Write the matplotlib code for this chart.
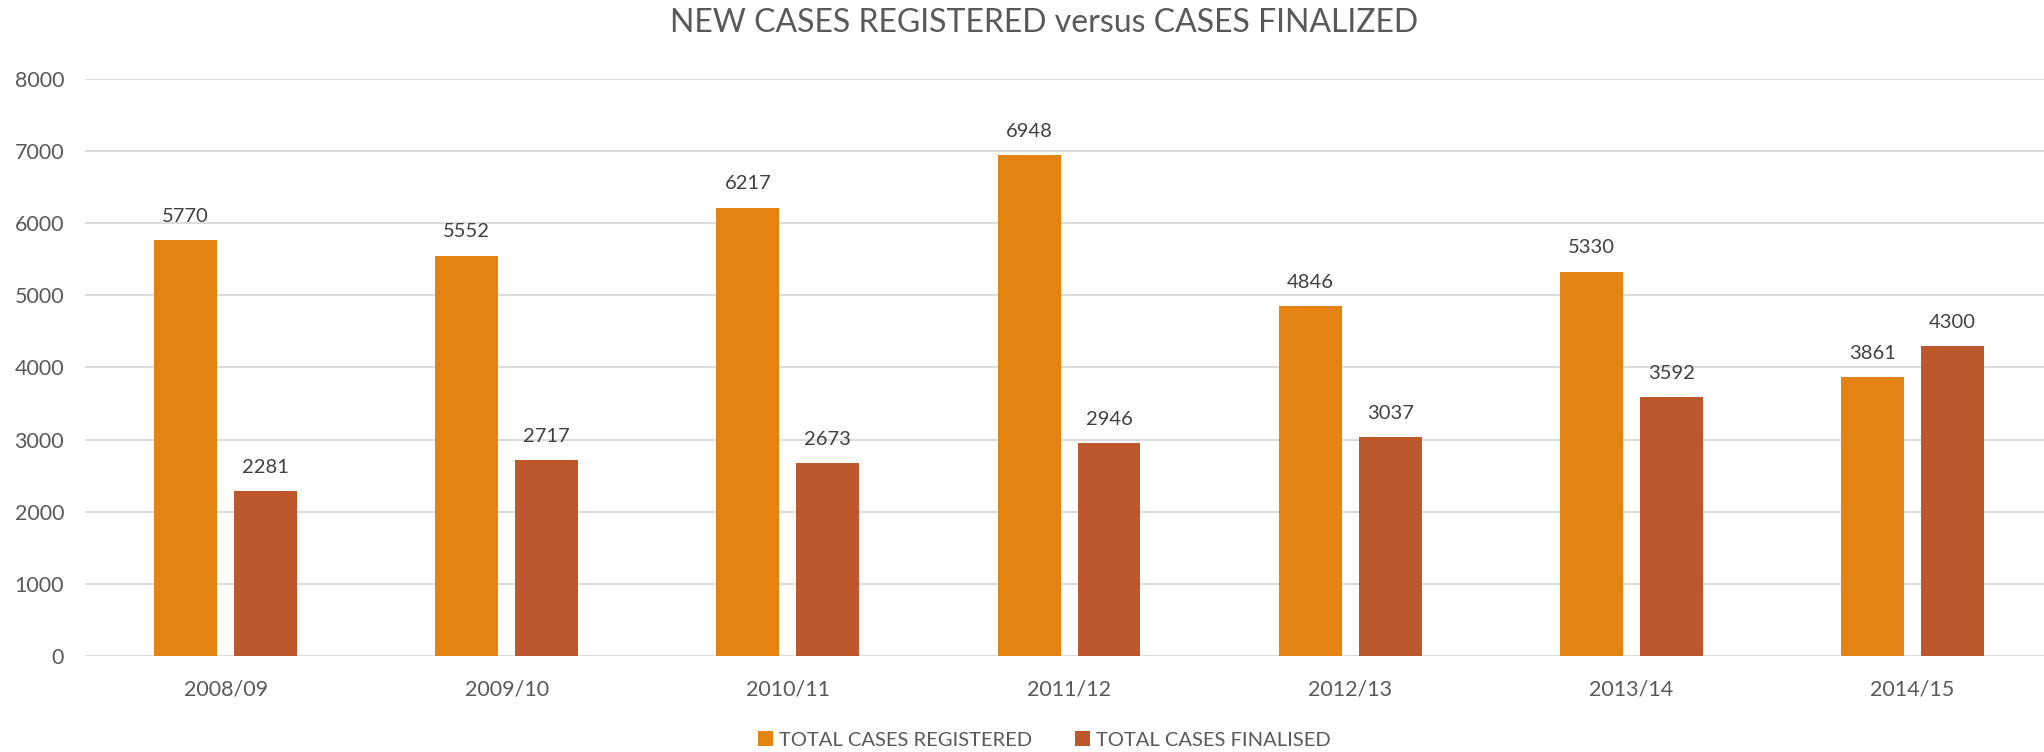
import numpy as np
import matplotlib.pyplot as plt

# data
years = ["2008/09", "2009/10", "2010/11", "2011/12", "2012/13", "2013/14", "2014/15"]
registered = [5770, 5552, 6217, 6948, 4846, 5330, 3861]
finalised = [2281, 2717, 2673, 2946, 3037, 3592, 4300]

plt.rcParams['font.family'] = ['Lato', 'DejaVu Sans']
grey = '#595959'

fig = plt.figure(figsize=(20.44, 7.52), dpi=100)
# plot area runs slightly past the right edge, as in the original
ax = fig.add_axes([0.0416, 0.1277, 0.9628, 0.7673])

x = np.arange(len(years))
w = 0.224
off = (w + 0.0605) / 2
b1 = ax.bar(x - off, registered, w, color='#E48312', label='TOTAL CASES REGISTERED', zorder=3)
b2 = ax.bar(x + off, finalised, w, color='#BD582C', label='TOTAL CASES FINALISED', zorder=3)
for bars in (b1, b2):
    ax.bar_label(bars, padding=11, fontsize=14.5, color='#404040')

ax.set_xlim(-0.5, len(years) - 0.5)
ax.set_ylim(0, 8000)
ax.set_yticks(range(0, 8001, 1000))
ax.set_xticks(x)
ax.set_xticklabels(years)
ax.grid(axis='y', color='#D9D9D9', linewidth=1.3, zorder=0)
for s in ax.spines.values():
    s.set_visible(False)
ax.tick_params(axis='both', length=0, labelsize=15.5, colors=grey)
ax.tick_params(axis='x', pad=17)
ax.tick_params(axis='y', pad=15)

fig.text(0.511, 0.969, "NEW CASES REGISTERED versus CASES FINALIZED",
         ha='center', va='center', fontsize=23, color=grey)
fig.legend(loc='center', bbox_to_anchor=(0.511, 0.016), ncol=2, frameon=False,
           fontsize=14.5, labelcolor=grey, handlelength=0.75, handleheight=0.75,
           handletextpad=0.3, columnspacing=2.15, borderpad=0)

fig.savefig('out.png')
